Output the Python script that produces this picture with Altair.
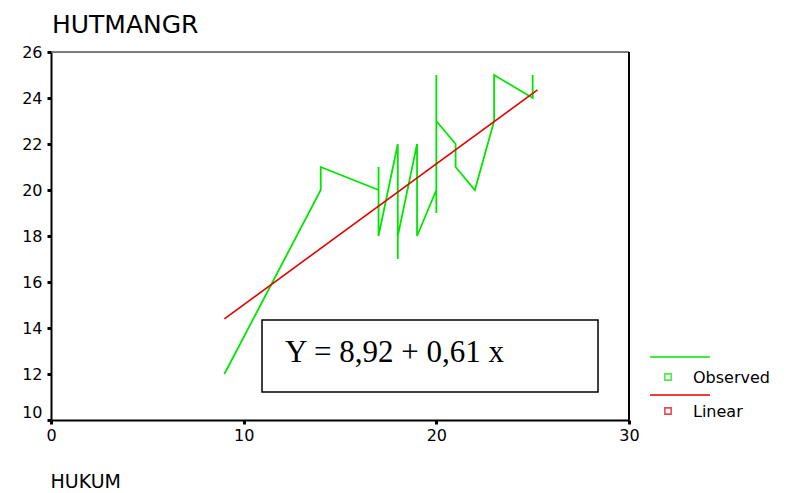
import altair as alt
import pandas as pd

# ---- data ----
title_text = "HUTMANGR"
x_title = "HUKUM"
equation = "Y = 8,92 + 0,61 x"

obs_x = [9, 14, 14, 17, 17, 17, 18, 18, 18, 19, 19, 20, 20, 20, 20, 21, 21, 22, 23, 23, 25, 25]
obs_y = [12, 20, 21, 20, 21, 18, 22, 17, 18, 22, 18, 20, 19, 25, 23, 22, 21, 20, 23, 25, 24, 25]

lin_x = [9, 25.25]
lin_y = [14.4, 24.35]

series = ["Observed", "Linear"]
series_colors = ["#00e600", "#e60000"]

x_ticks = [0, 10, 20, 30]
y_ticks = [10, 12, 14, 16, 18, 20, 22, 24, 26]

obs = pd.DataFrame({"x": obs_x, "y": obs_y, "i": list(range(len(obs_x)))})
lin = pd.DataFrame({"x": lin_x, "y": lin_y})

xs = alt.Scale(domain=[0, 30], nice=False, zero=False)
ys = alt.Scale(domain=[10, 26], nice=False, zero=False)

FONT = "DejaVu Sans"
W, H = 578, 368

x_axis = alt.Axis(values=x_ticks, grid=False, tickSize=4, tickWidth=3, tickColor="black",
                  domainColor="black", domainWidth=2, labelFont=FONT, labelFontSize=16,
                  labelColor="black", labelPadding=3, labelFlush=False,
                  title=x_title, titleFont=FONT, titleFontSize=19, titleFontWeight="normal",
                  titleColor="black", titleAnchor="start", titleAlign="left",
                  titleX=-1, titleY=67, titleBaseline="alphabetic")
y_axis = alt.Axis(values=y_ticks, grid=False, tickSize=4, tickWidth=3, tickColor="black",
                  domainColor="black", domainWidth=2, labelFont=FONT, labelFontSize=16,
                  labelColor="black", labelPadding=5, labelFlush=False, title=None,
                  labelBaseline={"condition": {"test": "datum.value == 10", "value": "bottom"},
                                 "value": "middle"})

observed = alt.Chart(obs).mark_line(color=series_colors[0], strokeWidth=1.8).encode(
    x=alt.X("x:Q", scale=xs, axis=x_axis),
    y=alt.Y("y:Q", scale=ys, axis=y_axis),
    order="i:Q",
)

linear = alt.Chart(lin).mark_line(color=series_colors[1], strokeWidth=1.6).encode(
    x=alt.X("x:Q", scale=xs),
    y=alt.Y("y:Q", scale=ys),
)

eq_df = pd.DataFrame({"t": [equation]})
box = alt.Chart(eq_df).mark_rect(fill="white", stroke="black", strokeWidth=1.5).encode(
    x=alt.value(211), x2=alt.value(547), y=alt.value(268), y2=alt.value(340)
)
eq_text = alt.Chart(eq_df).mark_text(font="Liberation Serif", fontSize=31, align="left",
                                     baseline="alphabetic", color="black").encode(
    x=alt.value(234), y=alt.value(310), text="t:N"
)

# frame: grey top edge, black right edge
top_edge = alt.Chart(eq_df).mark_rule(color="#555555", strokeWidth=1.5).encode(
    x=alt.value(0), x2=alt.value(W), y=alt.value(0))
right_edge = alt.Chart(eq_df).mark_rule(color="black", strokeWidth=2).encode(
    x=alt.value(W), y=alt.value(0), y2=alt.value(H))

title_df = pd.DataFrame({"t": [title_text]})
title = alt.Chart(title_df).mark_text(font=FONT, fontSize=25, align="left",
                                      baseline="alphabetic", color="black").encode(
    x=alt.value(1), y=alt.value(-19), text="t:N"
)

legend_layers = []
for k, (name, col) in enumerate(zip(series, series_colors)):
    d = pd.DataFrame({"t": [name]})
    y_line = 305 + k * 38
    y_sym = 325 + k * 34
    legend_layers.append(alt.Chart(d).mark_rule(color=col, strokeWidth=1.5).encode(
        x=alt.value(599), x2=alt.value(659), y=alt.value(y_line)))
    legend_layers.append(alt.Chart(d).mark_square(filled=False, color=col, strokeWidth=1.6,
                                                  size=40).encode(
        x=alt.value(617), y=alt.value(y_sym)))
    legend_layers.append(alt.Chart(d).mark_text(font=FONT, fontSize=16, align="left",
                                                baseline="middle", color="black").encode(
        x=alt.value(642), y=alt.value(y_sym + 1), text="t:N"))

chart = alt.layer(box, eq_text, observed, linear, top_edge, right_edge, title,
                  *legend_layers).properties(
    width=W, height=H,
    autosize=alt.AutoSizeParams(type="none"),
    padding={"left": 43, "top": 44, "right": 160, "bottom": 72},
).configure_view(stroke=None).configure(background="white")

chart.save("out.html", embed_options={"renderer": "svg", "actions": False})
